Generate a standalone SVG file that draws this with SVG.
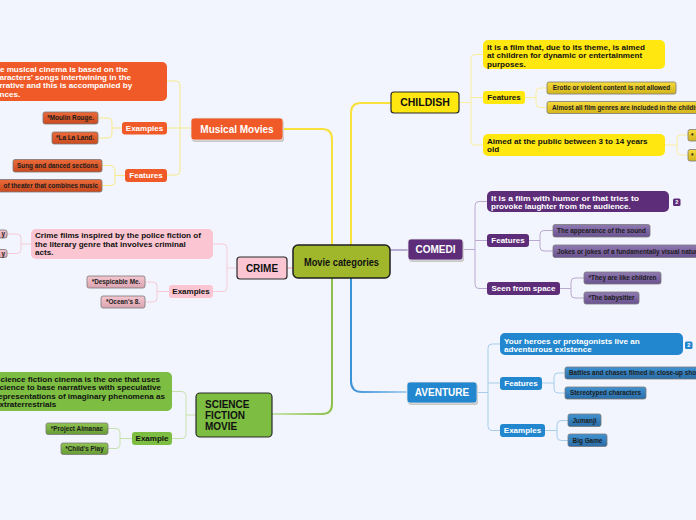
<svg xmlns="http://www.w3.org/2000/svg" width="696" height="520" viewBox="0 0 696 520">
<defs>
<style>
text{font-family:"Liberation Sans",Arial,sans-serif;font-weight:bold}
.main{font-size:10px}
.sub{font-size:8px}
.desc{font-size:8.1px}
.leaf{font-size:6.4px;fill:#1c1c1c;text-anchor:middle}
.w{fill:#fff}
.k{fill:#111}
.c{fill:none;stroke-linecap:round}
.leafbox{stroke:#7a7a7a;stroke-width:0.8}
</style>
<linearGradient id="gOr" x1="0" y1="0" x2="0" y2="1"><stop offset="0" stop-color="#ec6a3a"/><stop offset="1" stop-color="#c94a1f"/></linearGradient>
<linearGradient id="gPk" x1="0" y1="0" x2="0" y2="1"><stop offset="0" stop-color="#f4c6d0"/><stop offset="1" stop-color="#dba3b0"/></linearGradient>
<linearGradient id="gGr" x1="0" y1="0" x2="0" y2="1"><stop offset="0" stop-color="#90c552"/><stop offset="1" stop-color="#679b35"/></linearGradient>
<linearGradient id="gYe" x1="0" y1="0" x2="0" y2="1"><stop offset="0" stop-color="#f6db3a"/><stop offset="1" stop-color="#d2b41c"/></linearGradient>
<linearGradient id="gPu" x1="0" y1="0" x2="0" y2="1"><stop offset="0" stop-color="#907ab2"/><stop offset="1" stop-color="#6a5190"/></linearGradient>
<linearGradient id="gBl" x1="0" y1="0" x2="0" y2="1"><stop offset="0" stop-color="#4193d2"/><stop offset="1" stop-color="#2a6ca6"/></linearGradient>
<linearGradient id="gAv" x1="351" y1="0" x2="407" y2="0" gradientUnits="userSpaceOnUse"><stop offset="0" stop-color="#3a92d6"/><stop offset="1" stop-color="#a9d0f0"/></linearGradient>
<linearGradient id="gSf" x1="332" y1="0" x2="272" y2="0" gradientUnits="userSpaceOnUse"><stop offset="0" stop-color="#8cc04a"/><stop offset="1" stop-color="#c9e3ae"/></linearGradient>
</defs>
<rect width="696" height="520" fill="#f2f5fd"/>

<g id="connectors">
<path class="c" d="M283,129 H322 Q332,129 332,139 V246" stroke="#f7e13a" stroke-width="2"/>
<path class="c" d="M351,246 V113 Q351,103 361,103 H391" stroke="#f7e13a" stroke-width="2"/>
<path class="c" d="M390,250 H408" stroke="#a892c2" stroke-width="1.5"/>
<path class="c" d="M287,268 H293" stroke="#f3bccb" stroke-width="1.5"/>
<path class="c" d="M332,277 V404 Q332,414 322,414 H272" stroke="url(#gSf)" stroke-width="2"/>
<path class="c" d="M351,277 V381 Q351,392 362,392 H407" stroke="url(#gAv)" stroke-width="2"/>
<g stroke="#f8e98c" stroke-width="1" fill="none">
<path d="M167,81 H176 Q180,81 180,85 V171 Q180,175 176,175 H167 M167,128 H191"/>
<path d="M98,118 H108 Q112,118 112,122 V134 Q112,138 108,138 H98 M112,128 H122"/>
<path d="M102,165.5 H111 Q115,165.5 115,169.5 V181.5 Q115,185.5 111,185.5 H102 M115,175.5 H125"/>
</g>
<g stroke="#f6cbd6" stroke-width="1" fill="none">
<path d="M213,244 H223 Q227,244 227,248 V287.5 Q227,291.5 223,291.5 H213 M227,268 H237"/>
<path d="M7,234 H17 Q21,234 21,238 V249.5 Q21,253.5 17,253.5 H7 M21,244 H31"/>
<path d="M145,282 H153 Q157,282 157,286 V298 Q157,302 153,302 H145 M157,291.5 H169"/>
</g>
<g stroke="#c7e1ac" stroke-width="1" fill="none">
<path d="M172,391.5 H182 Q186,391.5 186,395.5 V434.5 Q186,438.5 182,438.5 H172 M186,415 H196"/>
<path d="M108,428.5 H116 Q120,428.5 120,432.5 V444.5 Q120,448.5 116,448.5 H108 M120,438.5 H132"/>
</g>
<g stroke="#fbee9c" stroke-width="1" fill="none">
<path d="M483,54.5 H475 Q471,54.5 471,58.5 V141 Q471,145 475,145 H483 M459,102.5 H471 M471,97.5 H483"/>
<path d="M547,88 H540 Q536,88 536,92 V103.5 Q536,107.5 540,107.5 H547 M525,97.5 H536"/>
<path d="M688,135 H681 Q677,135 677,139 V151 Q677,155 681,155 H688 M665,145 H677"/>
</g>
<g stroke="#bba9cf" stroke-width="1" fill="none">
<path d="M487,201.5 H479 Q475,201.5 475,205.5 V284.5 Q475,288.5 479,288.5 H487 M463,249.5 H475 M475,240.5 H487"/>
<path d="M553,230.5 H544 Q540,230.5 540,234.5 V247 Q540,251 544,251 H553 M529,240.5 H540"/>
<path d="M584,278 H575 Q571,278 571,282 V294 Q571,298 575,298 H584 M560,288.5 H571"/>
</g>
<g stroke="#a8cdeb" stroke-width="1" fill="none">
<path d="M500,344 H492 Q488,344 488,348 V426.5 Q488,430.5 492,430.5 H500 M477,392.5 H488 M488,383 H500"/>
<path d="M565,373 H558 Q554,373 554,377 V389 Q554,393 558,393 H565 M542,383 H554"/>
<path d="M568,420.5 H561 Q557,420.5 557,424.5 V436.5 Q557,440.5 561,440.5 H568 M545,430.5 H557"/>
</g>
</g>

<g id="center">
<rect x="293" y="245" width="97" height="33" rx="5" fill="#a0b72c" stroke="#1e1e1e" stroke-width="1.5"/>
<text x="341.5" y="266" text-anchor="middle" font-family="'DejaVu Sans Condensed','Liberation Sans Narrow',sans-serif" font-size="11.5" textLength="75" lengthAdjust="spacingAndGlyphs" fill="#111">Movie categories</text>
</g>

<g id="musical">
<rect x="192" y="120" width="92" height="22" rx="3" fill="#c8c8c8"/>
<rect x="191" y="118" width="92" height="22" rx="3" fill="#f05a28" stroke="#e8e8e8" stroke-width="0.8"/>
<text class="main w" x="237" y="132.5" text-anchor="middle">Musical Movies</text>
</g>
<g id="musical-desc">
<rect x="-20" y="62" width="187" height="39" rx="5" fill="#f05a28"/>
<text class="desc w" x="-10" y="71.5">The musical cinema is based on the</text>
<text class="desc w" x="-10" y="79.9">characters' songs intertwining in the</text>
<text class="desc w" x="-10" y="88.3">narrative and this is accompanied by</text>
<text class="desc w" x="-10" y="96.7">dances.</text>
</g>
<g id="musical-examples">
<rect x="122" y="122" width="45" height="12.5" rx="3" fill="#f05a28"/>
<text class="sub w" x="144.5" y="131.2" text-anchor="middle">Examples</text>
</g>
<g id="moulin"><rect class="leafbox" x="43" y="112" width="55" height="12" rx="2" fill="url(#gOr)"/><text class="leaf" x="70.5" y="120.3">*Moulin Rouge.</text></g>
<g id="lalaland"><rect class="leafbox" x="52" y="132" width="46" height="12" rx="2" fill="url(#gOr)"/><text class="leaf" x="75" y="140.3">*La La Land.</text></g>
<g id="musical-features">
<rect x="125" y="169" width="42" height="13" rx="3" fill="#f05a28"/>
<text class="sub w" x="146" y="178.4" text-anchor="middle">Features</text>
</g>
<g id="sung"><rect class="leafbox" x="13" y="159.5" width="89" height="12.5" rx="2" fill="url(#gOr)"/><text class="leaf" x="57.5" y="168">Sung and danced sections</text></g>
<g id="theater"><rect class="leafbox" x="-10" y="179.5" width="112" height="12.5" rx="2" fill="url(#gOr)"/><text class="leaf" x="98" y="188" style="text-anchor:end">of theater that combines music</text></g>

<g id="crime">
<rect x="237" y="257" width="50" height="22" rx="3" fill="#fbc6d2" stroke="#2a2a2a" stroke-width="1.2"/>
<text class="main k" x="262" y="271.5" text-anchor="middle">CRIME</text>
</g>
<g id="crime-desc">
<rect x="31" y="229" width="182" height="30" rx="5" fill="#fbc6d2"/>
<text class="desc k" x="35" y="238">Crime films inspired by the police fiction of</text>
<text class="desc k" x="35" y="246.5">the literary genre that involves criminal</text>
<text class="desc k" x="35" y="255">acts.</text>
</g>
<g id="crime-leaf1"><rect class="leafbox" x="-20" y="230" width="27" height="8" rx="2" fill="url(#gPk)"/><text class="leaf" x="5" y="236.3" style="text-anchor:end">y</text></g>
<g id="crime-leaf2"><rect class="leafbox" x="-20" y="249.5" width="27" height="8" rx="2" fill="url(#gPk)"/><text class="leaf" x="5" y="255.8" style="text-anchor:end">y</text></g>
<g id="crime-examples">
<rect x="169" y="285" width="44" height="13" rx="3" fill="#fbc6d2"/>
<text class="sub k" x="191" y="294.4" text-anchor="middle">Examples</text>
</g>
<g id="despicable"><rect class="leafbox" x="87" y="276" width="58" height="12" rx="2" fill="url(#gPk)"/><text class="leaf" x="116" y="284.3">*Despicable Me.</text></g>
<g id="oceans"><rect class="leafbox" x="101" y="296" width="44" height="12" rx="2" fill="url(#gPk)"/><text class="leaf" x="123" y="304.3">*Ocean's 8.</text></g>

<g id="scifi">
<rect x="196" y="393" width="76" height="44" rx="4" fill="#7cbd42" stroke="#2a2a2a" stroke-width="1.2"/>
<text class="main k" x="205" y="407.5">SCIENCE</text>
<text class="main k" x="205" y="418.5">FICTION</text>
<text class="main k" x="205" y="429.5">MOVIE</text>
</g>
<g id="scifi-desc">
<rect x="-20" y="372" width="192" height="39" rx="5" fill="#7cbd42"/>
<text class="desc k" x="-5" y="382">Science fiction cinema is the one that uses</text>
<text class="desc k" x="-5" y="390.4">science to base narratives with speculative</text>
<text class="desc k" x="-5" y="398.8">representations of imaginary phenomena as</text>
<text class="desc k" x="-5" y="407.2">extraterrestrials</text>
</g>
<g id="scifi-example">
<rect x="132" y="432" width="40" height="13" rx="3" fill="#7cbd42"/>
<text class="sub k" x="152" y="441.4" text-anchor="middle">Example</text>
</g>
<g id="almanac"><rect class="leafbox" x="46" y="423" width="62" height="11.5" rx="2" fill="url(#gGr)"/><text class="leaf" x="77" y="431">*Project Almanac</text></g>
<g id="childsplay"><rect class="leafbox" x="61" y="443" width="47" height="11.5" rx="2" fill="url(#gGr)"/><text class="leaf" x="84.5" y="451">*Child's Play</text></g>

<g id="childish">
<rect x="391" y="92" width="68" height="21" rx="3" fill="#ffe70f" stroke="#2a2a2a" stroke-width="1.2"/>
<text class="main k" x="425" y="106.3" text-anchor="middle" style="font-size:10.5px">CHILDISH</text>
</g>
<g id="childish-desc">
<rect x="483" y="40" width="182" height="29" rx="5" fill="#ffe70f"/>
<text class="desc k" x="487" y="49.5">It is a film that, due to its theme, is aimed</text>
<text class="desc k" x="487" y="58">at children for dynamic or entertainment</text>
<text class="desc k" x="487" y="66.5">purposes.</text>
</g>
<g id="childish-features">
<rect x="483" y="91" width="42" height="13" rx="3" fill="#ffe70f"/>
<text class="sub k" x="504" y="100.4" text-anchor="middle">Features</text>
</g>
<g id="erotic"><rect class="leafbox" x="547" y="82" width="129" height="12" rx="2" fill="url(#gYe)"/><text class="leaf" x="611.5" y="90.3">Erotic or violent content is not allowed</text></g>
<g id="almostall"><rect class="leafbox" x="547" y="101.5" width="160" height="12" rx="2" fill="url(#gYe)"/><text class="leaf" x="552" y="109.8" style="text-anchor:start">Almost all film genres are included in the childish</text></g>
<g id="childish-aimed">
<rect x="483" y="134" width="182" height="22" rx="5" fill="#ffe70f"/>
<text class="desc k" x="487" y="143.5">Aimed at the public between 3 to 14 years</text>
<text class="desc k" x="487" y="152">old</text>
</g>
<g id="aimed-leaf1"><rect class="leafbox" x="688" y="129.5" width="20" height="11.5" rx="2" fill="url(#gYe)"/><text class="leaf" x="691" y="137.8" style="text-anchor:start">*</text></g>
<g id="aimed-leaf2"><rect class="leafbox" x="688" y="149.5" width="20" height="11.5" rx="2" fill="url(#gYe)"/><text class="leaf" x="691" y="157.8" style="text-anchor:start">*</text></g>

<g id="comedi">
<rect x="409" y="241" width="55" height="21" rx="3" fill="#c8c8c8"/>
<rect x="408" y="239" width="55" height="21" rx="3" fill="#5e2d79" stroke="#e4e4e4" stroke-width="0.8"/>
<text class="main w" x="435.5" y="253" text-anchor="middle">COMEDI</text>
</g>
<g id="comedi-desc">
<rect x="487" y="191" width="182" height="21" rx="5" fill="#5e2d79"/>
<text class="desc w" x="491" y="200.5" textLength="148" lengthAdjust="spacingAndGlyphs">It is a film with humor or that tries to</text>
<text class="desc w" x="491" y="209">provoke laughter from the audience.</text>
<rect x="673" y="198.5" width="7.5" height="7.5" rx="1.5" fill="#5e2d79"/>
<text x="676.75" y="204.3" text-anchor="middle" font-size="5.5" fill="#fff">2</text>
</g>
<g id="comedi-features">
<rect x="487" y="234" width="42" height="13" rx="3" fill="#5e2d79"/>
<text class="sub w" x="508" y="243.4" text-anchor="middle">Features</text>
</g>
<g id="sound"><rect class="leafbox" x="553" y="224.5" width="97" height="12.5" rx="2" fill="url(#gPu)"/><text class="leaf" x="601.5" y="233">The appearance of the sound</text></g>
<g id="jokes"><rect class="leafbox" x="553" y="245" width="160" height="12.5" rx="2" fill="url(#gPu)"/><text class="leaf" x="557" y="253.5" style="text-anchor:start">Jokes or jokes of a fundamentally visual nature</text></g>
<g id="comedi-seen">
<rect x="487" y="282" width="73" height="13" rx="3" fill="#5e2d79"/>
<text class="sub w" x="523.5" y="291.4" text-anchor="middle">Seen from space</text>
</g>
<g id="likechildren"><rect class="leafbox" x="584" y="272" width="77" height="12" rx="2" fill="url(#gPu)"/><text class="leaf" x="622.5" y="280.3">*They are like children</text></g>
<g id="babysitter"><rect class="leafbox" x="584" y="292" width="55" height="12" rx="2" fill="url(#gPu)"/><text class="leaf" x="611.5" y="300.3">*The babysitter</text></g>

<g id="aventure">
<rect x="408" y="384" width="70" height="21" rx="3" fill="#c8c8c8"/>
<rect x="407" y="382" width="70" height="21" rx="3" fill="#2287cf" stroke="#e4e4e4" stroke-width="0.8"/>
<text class="main w" x="442" y="396" text-anchor="middle">AVENTURE</text>
</g>
<g id="aventure-desc">
<rect x="500" y="333" width="183" height="22" rx="5" fill="#2287cf"/>
<text class="desc w" x="504" y="343.5">Your heroes or protagonists live an</text>
<text class="desc w" x="504" y="352">adventurous existence</text>
<rect x="685" y="341.5" width="7.5" height="7.5" rx="1.5" fill="#2287cf"/>
<text x="688.75" y="347.3" text-anchor="middle" font-size="5.5" fill="#fff">2</text>
</g>
<g id="aventure-features">
<rect x="500" y="377" width="42" height="13" rx="3" fill="#2287cf"/>
<text class="sub w" x="521" y="386.4" text-anchor="middle">Features</text>
</g>
<g id="battles"><rect class="leafbox" x="565" y="367" width="150" height="12" rx="2" fill="url(#gBl)"/><text class="leaf" x="569" y="375.3" style="text-anchor:start">Battles and chases filmed in close-up shots</text></g>
<g id="stereotyped"><rect class="leafbox" x="565" y="387" width="81" height="12" rx="2" fill="url(#gBl)"/><text class="leaf" x="605.5" y="395.3">Stereotyped characters</text></g>
<g id="aventure-examples">
<rect x="500" y="424" width="45" height="13" rx="3" fill="#2287cf"/>
<text class="sub w" x="522.5" y="433.4" text-anchor="middle">Examples</text>
</g>
<g id="jumanji"><rect class="leafbox" x="568" y="414" width="33" height="12.5" rx="2" fill="url(#gBl)"/><text class="leaf" x="584.5" y="422.5">Jumanji</text></g>
<g id="biggame"><rect class="leafbox" x="568" y="434" width="39" height="12.5" rx="2" fill="url(#gBl)"/><text class="leaf" x="587.5" y="442.5">Big Game</text></g>
</svg>
